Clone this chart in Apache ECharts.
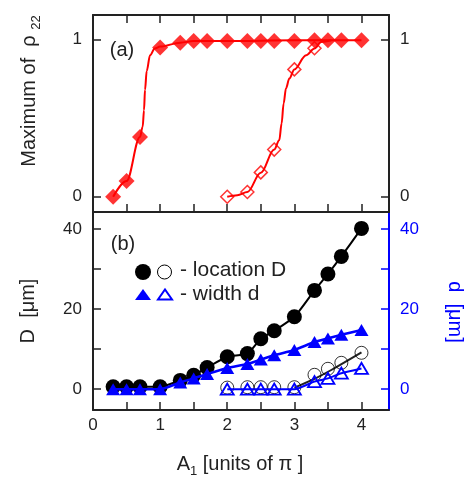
<!DOCTYPE html>
<html><head><meta charset="utf-8">
<script src="https://cdn.jsdelivr.net/npm/echarts@6/dist/echarts.min.js"></script>
<style>html,body{margin:0;padding:0;background:#fff}#c{width:468px;height:480px}</style>
</head><body><div id="c"></div>
<script>
// ---- axis ticks / labels ----
const xTicks = [0.5, 1, 1.5, 2, 2.5, 3, 3.5, 4];
const xLabels = [0, 1, 2, 3, 4];
const topYTicks = [0, 1];
const botYTicks = [0, 10, 20, 30, 40];
const botYLabels = [0, 20, 40];

// ---- panel (a): maximum of rho22 ----
const aX = [0.3, 0.5, 0.7, 1.0, 1.3, 1.5, 1.7, 2.0, 2.3, 2.5, 2.7, 3.0, 3.3, 3.5, 3.7, 4.0];
const aFilled = [0, 0.1, 0.38, 0.95, 0.98, 0.99, 0.99, 0.99, 0.99, 0.99, 0.99, 0.99, 0.995, 0.995, 0.995, 0.995];
const aOpenX = [2.0, 2.3, 2.5, 2.7, 3.0, 3.3];
const aOpen = [0, 0.03, 0.155, 0.30, 0.81, 0.945];
// fitted curves
const aFitFilledX = [0.3, 0.5, 0.7, 0.74, 0.76, 0.775, 0.8, 0.85, 0.92, 1.0, 1.3, 1.5, 2.0, 3.0, 4.0];
const aFitFilled  = [0, 0.1, 0.38, 0.445, 0.55, 0.68, 0.8, 0.9, 0.943, 0.955, 0.98, 0.99, 0.99, 0.995, 0.995];
const aFitOpenX = [2.0, 2.15, 2.3, 2.5, 2.7, 2.775, 2.81, 2.84, 2.875, 2.925, 3.0, 3.175, 3.3, 3.4, 3.55];
const aFitOpen  = [0, 0.01, 0.03, 0.152, 0.30, 0.36, 0.466, 0.593, 0.689, 0.752, 0.81, 0.90, 0.943, 0.985, 0.995];

// ---- panel (b): location D and width d [um] ----
const bX = [0.3, 0.5, 0.7, 1.0, 1.3, 1.5, 1.7, 2.0, 2.3, 2.5, 2.7, 3.0, 3.3, 3.5, 3.7, 4.0];
const bD = [0.6, 0.6, 0.6, 0.6, 2.2, 3.5, 5.4, 8.1, 8.9, 12.6, 14.6, 18.1, 24.7, 28.8, 33.2, 40.2];
const bd = [0, 0, 0, 0, 1.7, 2.7, 3.8, 5.3, 6.3, 7.4, 8.5, 9.8, 11.8, 12.7, 13.6, 14.8];
const oX = [2.0, 2.3, 2.5, 2.7, 3.0, 3.3, 3.5, 3.7, 4.0];
const oD = [0.4, 0.5, 0.5, 0.5, 0.5, 3.6, 5.1, 6.6, 9.1];
const od = [0, 0, 0, 0, 0, 1.9, 2.7, 4.0, 5.2];
const oFitX = [3.0, 3.3, 3.55, 4.0];
const oFitD = [0.4, 2.6, 4.8, 9.2];

const zip = (xs, ys) => xs.map((x, i) => [x, ys[i]]);

const FONT = 'Liberation Sans, Arial, Helvetica, sans-serif';
const INK = '#222';
const RED = '#ff0000';
const BLUE = '#0000ff';

function xAx(grid, pos, showLabels, showTicks) {
  return {
    type: 'value', gridIndex: grid, position: pos, min: 0, max: 4.41,
    splitLine: { show: false },
    axisLine: { show: true, onZero: false, lineStyle: { color: INK, width: 2 } },
    axisTick: { show: showTicks, inside: true, length: 8, customValues: xTicks, lineStyle: { color: INK, width: 1.5 } },
    axisLabel: { show: showLabels, customValues: xLabels, color: INK, fontSize: 17, fontFamily: FONT, margin: 7 }
  };
}
function yAx(grid, pos, min, max, ticks, labels, color) {
  return {
    type: 'value', gridIndex: grid, position: pos, min: min, max: max,
    splitLine: { show: false },
    axisLine: { show: true, onZero: false, lineStyle: { color: color, width: 2 } },
    axisTick: { show: true, inside: true, length: 8, customValues: ticks, lineStyle: { color: color, width: 1.5 } },
    axisLabel: { show: true, customValues: labels, color: color, fontSize: 17, fontFamily: FONT, margin: 11 }
  };
}

const chart = echarts.init(document.getElementById('c'), null, { renderer: 'canvas' });
chart.setOption({
  animation: false,
  backgroundColor: '#fff',
  grid: [
    { left: 93, top: 15, width: 296, height: 197 },
    { left: 93, top: 212, width: 296, height: 198 }
  ],
  xAxis: [
    xAx(0, 'bottom', false, true),
    xAx(0, 'top', false, true),
    xAx(1, 'bottom', true, true),
    xAx(1, 'top', false, false)
  ],
  yAxis: [
    yAx(0, 'left', -0.097, 1.156, topYTicks, topYTicks, INK),
    yAx(0, 'right', -0.097, 1.156, topYTicks, topYTicks, INK),
    yAx(1, 'left', -5.2, 44.3, botYTicks, botYLabels, INK),
    yAx(1, 'right', -5.2, 44.3, botYTicks, botYLabels, BLUE)
  ],
  series: [
    { type: 'line', xAxisIndex: 0, yAxisIndex: 0, data: zip(aFitFilledX, aFitFilled), showSymbol: false, smooth: 0.35, smoothMonotone: 'x', lineStyle: { color: RED, width: 2 }, z: 2 },
    { type: 'line', xAxisIndex: 0, yAxisIndex: 0, data: zip(aFitOpenX, aFitOpen), showSymbol: false, smooth: 0.35, smoothMonotone: 'x', lineStyle: { color: RED, width: 2 }, z: 2 },
    { type: 'scatter', xAxisIndex: 0, yAxisIndex: 0, data: zip(aX, aFilled), symbol: 'diamond', symbolSize: 16, itemStyle: { color: RED }, z: 3 },
    { type: 'scatter', xAxisIndex: 0, yAxisIndex: 0, data: zip(aOpenX, aOpen), symbol: 'diamond', symbolSize: 13, itemStyle: { color: 'rgba(255,255,255,0)', borderColor: RED, borderWidth: 1.5 }, z: 4 },

    { type: 'line', xAxisIndex: 2, yAxisIndex: 2, data: zip(bX, bD), symbol: 'circle', symbolSize: 15, smooth: 0.2, lineStyle: { color: '#000', width: 2 }, itemStyle: { color: '#000' }, z: 2 },
    { type: 'line', xAxisIndex: 2, yAxisIndex: 3, data: zip(bX, bd), symbol: 'triangle', symbolSize: [14, 12], smooth: 0.2, lineStyle: { color: BLUE, width: 2.5 }, itemStyle: { color: BLUE }, z: 3 },
    { type: 'line', xAxisIndex: 2, yAxisIndex: 2, data: zip(oFitX, oFitD), showSymbol: false, smooth: 0.3, lineStyle: { color: '#222', width: 2 }, z: 3 },
    { type: 'scatter', xAxisIndex: 2, yAxisIndex: 2, data: zip(oX, oD), symbol: 'circle', symbolSize: 13, itemStyle: { color: 'rgba(255,255,255,0)', borderColor: '#000', borderWidth: 1 }, z: 4 },
    { type: 'line', xAxisIndex: 2, yAxisIndex: 3, data: zip(oX, od), symbol: 'triangle', symbolSize: [13, 11], smooth: 0.2, lineStyle: { color: BLUE, width: 2 }, itemStyle: { color: 'rgba(255,255,255,0)', borderColor: BLUE, borderWidth: 1.8 }, z: 5 }
  ],
  graphic: [
    { type: 'text', x: 122, y: 50, z: 10, style: { text: '(a)', fontSize: 20, fontFamily: FONT, fill: INK, align: 'center', verticalAlign: 'middle' } },
    { type: 'text', x: 123, y: 244, z: 10, style: { text: '(b)', fontSize: 20, fontFamily: FONT, fill: INK, align: 'center', verticalAlign: 'middle' } },
    { type: 'circle', z: 10, shape: { cx: 143, cy: 272, r: 8 }, style: { fill: '#000' } },
    { type: 'circle', z: 10, shape: { cx: 164.5, cy: 272, r: 7 }, style: { fill: 'none', stroke: '#000', lineWidth: 1 } },
    { type: 'polygon', z: 10, shape: { points: [[135, 300], [151, 300], [143, 289]] }, style: { fill: BLUE } },
    { type: 'polygon', z: 10, shape: { points: [[158, 299.5], [172, 299.5], [165, 289.5]] }, style: { fill: 'none', stroke: BLUE, lineWidth: 2 } },
    { type: 'text', x: 180, y: 270, z: 10, style: { text: '- location D', fontSize: 21, fontFamily: FONT, fill: INK, align: 'left', verticalAlign: 'middle' } },
    { type: 'text', x: 180, y: 294, z: 10, style: { text: '- width d', fontSize: 21, fontFamily: FONT, fill: INK, align: 'left', verticalAlign: 'middle' } },
    { type: 'text', x: 29, y: 91, rotation: Math.PI / 2, z: 10, style: {
        text: '{m|Maximum of  ρ }{s|22}', align: 'center', verticalAlign: 'middle', fill: INK,
        rich: { m: { fontSize: 20, fontFamily: FONT, lineHeight: 28, verticalAlign: 'middle', fill: INK },
                s: { fontSize: 13, fontFamily: FONT, lineHeight: 14, verticalAlign: 'bottom', fill: INK } } } },
    { type: 'text', x: 28, y: 311, rotation: Math.PI / 2, z: 10, style: { text: 'D  [μm]', fontSize: 20, fontFamily: FONT, fill: INK, align: 'center', verticalAlign: 'middle' } },
    { type: 'text', x: 455, y: 312, rotation: -Math.PI / 2, z: 10, style: { text: 'd  [μm]', fontSize: 20, fontFamily: FONT, fill: BLUE, align: 'center', verticalAlign: 'middle' } },
    { type: 'text', x: 240, y: 464, z: 10, style: {
        text: '{a|A}{s|1}{a| [units of π ]}', align: 'center', verticalAlign: 'middle', fill: INK,
        rich: { a: { fontSize: 20, fontFamily: FONT, lineHeight: 28, verticalAlign: 'middle', fill: INK },
                s: { fontSize: 13, fontFamily: FONT, lineHeight: 14, verticalAlign: 'bottom', fill: INK } } } }
  ]
});
</script>
</body></html>
